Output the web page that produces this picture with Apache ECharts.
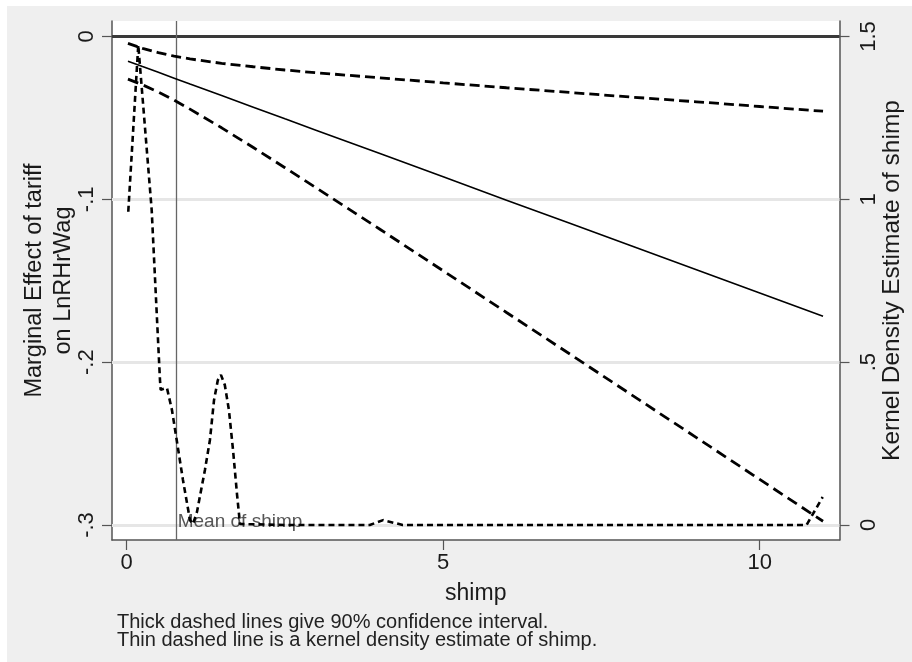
<!DOCTYPE html>
<html>
<head>
<meta charset="utf-8">
<script src="https://cdn.jsdelivr.net/npm/echarts@6/dist/echarts.min.js"></script>
<style>
html,body{margin:0;padding:0;background:#fff;width:912px;height:662px;overflow:hidden;}
#bg{position:absolute;left:7px;top:6px;right:0;bottom:0;background:#efefef;}
#chart{position:absolute;left:0;top:0;width:912px;height:662px;}
</style>
</head>
<body>
<div id="bg"></div>
<div id="chart"></div>
<script>
// ---- data ----
const shimpGrid      = [0.02, 0.25, 0.5, 0.75, 1, 1.5, 2, 2.5, 3, 4, 5, 6, 7, 8, 9, 10, 11];
const marginalEffect = [-0.0152, -0.0185, -0.0220, -0.0256, -0.0292, -0.0363, -0.0434, -0.0506, -0.0577, -0.0719, -0.0862, -0.1005, -0.1147, -0.1290, -0.1432, -0.1575, -0.1718];
const ciUpper        = [-0.0042, -0.0073, -0.0099, -0.0121, -0.0138, -0.0165, -0.0186, -0.0206, -0.0223, -0.0254, -0.0285, -0.0315, -0.0344, -0.0373, -0.0401, -0.0430, -0.0459];
const ciLower        = [-0.0262, -0.0297, -0.0341, -0.0391, -0.0446, -0.0561, -0.0682, -0.0806, -0.0931, -0.1184, -0.1439, -0.1695, -0.1950, -0.2207, -0.2463, -0.2720, -0.2977];

const densityX = [0.025, 0.183, 0.395, 0.526, 0.537, 0.636, 0.715, 0.79, 0.889, 1.0, 1.047, 1.11, 1.236, 1.315, 1.38, 1.44, 1.489, 1.55, 1.615, 1.68, 1.744, 1.79, 2.5, 3.5, 3.84, 4.05, 4.36, 5, 6, 7, 8, 9, 10, 10.74, 10.995];
const densityY = [0.962, 1.474, 0.967, 0.445, 0.415, 0.421, 0.353, 0.261, 0.138, 0.015, 0.003, 0.04, 0.169, 0.261, 0.384, 0.445, 0.461, 0.43, 0.353, 0.23, 0.092, 0.003, 0, 0, 0, 0.015, 0, 0, 0, 0, 0, 0, 0, 0, 0.086];

const shimpMean = 0.79;
const xTicks = [0, 5, 10];
const leftTicks = [-0.3, -0.2, -0.1, 0];
const rightTicks = [0, 0.5, 1, 1.5];
const gridValues = [-0.1, -0.2, -0.3];

const xAxisTitle = 'shimp';
const leftTitle = 'Marginal Effect of tariff\non LnRHrWag';
const rightTitle = 'Kernel Density Estimate of shimp';
const note = 'Thick dashed lines give 90% confidence interval.\nThin dashed line is a kernel density estimate of shimp.';
const meanLabel = 'Mean of shimp';

// ---- build ----
const FONT = '"Liberation Sans", Arial, sans-serif';
const zip = (xs, ys) => xs.map((x, i) => [x, ys[i]]);
const fmt = v => (v === 0 ? '0' : String(v).replace('0.', '.'));
const axisCol = '#555';

const chart = echarts.init(document.getElementById('chart'), null, {renderer: 'canvas'});
chart.setOption({
  animation: false,
  backgroundColor: 'transparent',
  textStyle: {fontFamily: FONT},
  title: {
    text: note, left: 117, top: 613, padding: 0,
    textStyle: {fontFamily: FONT, fontSize: 20, fontWeight: 'normal', color: '#222', lineHeight: 18}
  },
  grid: {left: 112, right: 72.5, top: 21, bottom: 122, show: true, backgroundColor: '#ffffff', borderWidth: 0,
         containLabel: false, outerBoundsMode: 'none'},
  xAxis: {
    type: 'value', min: -0.232, max: 11.26,
    splitLine: {show: false},
    axisLine: {onZero: false, lineStyle: {color: axisCol, width: 1.5}},
    axisTick: {length: 10, customValues: xTicks, lineStyle: {color: axisCol, width: 1.2}},
    axisLabel: {customValues: xTicks, margin: 12, fontSize: 22, color: '#1a1a1a', fontFamily: FONT},
    name: xAxisTitle, nameLocation: 'middle', nameGap: 42, nameMoveOverlap: false,
    nameTextStyle: {fontSize: 23, color: '#1a1a1a', fontFamily: FONT}
  },
  yAxis: [{
    type: 'value', position: 'left', min: -0.3092, max: 0.0095,
    splitLine: {show: false},
    axisLine: {show: true, onZero: false, lineStyle: {color: axisCol, width: 1.5}},
    axisTick: {show: true, length: 10, customValues: leftTicks, lineStyle: {color: axisCol, width: 1.2}},
    axisLabel: {customValues: leftTicks, formatter: fmt, rotate: 90, margin: 14, fontSize: 22, color: '#1a1a1a', fontFamily: FONT},
    name: leftTitle, nameLocation: 'middle', nameRotate: 90, nameGap: 34, nameMoveOverlap: false,
    nameTextStyle: {fontSize: 23.5, color: '#1a1a1a', lineHeight: 29, fontFamily: FONT}
  }, {
    type: 'value', position: 'right', min: -0.0461, max: 1.5476,
    splitLine: {show: false},
    axisLine: {show: true, onZero: false, lineStyle: {color: axisCol, width: 1.5}},
    axisTick: {show: true, length: 10, customValues: rightTicks, lineStyle: {color: axisCol, width: 1.2}},
    axisLabel: {customValues: rightTicks, formatter: fmt, rotate: 90, margin: 18, fontSize: 22, color: '#1a1a1a', fontFamily: FONT},
    name: rightTitle, nameLocation: 'middle', nameRotate: 90, nameGap: 40, nameMoveOverlap: false,
    nameTextStyle: {fontSize: 24.5, color: '#1a1a1a', fontFamily: FONT}
  }],
  series: [{
    name: 'reference', type: 'line', data: [], yAxisIndex: 0, silent: true, z: 1,
    markLine: {
      silent: true, symbol: ['none', 'none'], animation: false, z: 1,
      label: {show: false},
      data: gridValues.map(v => ({yAxis: v, lineStyle: {color: '#e6e6e6', width: 3, type: 'solid'}}))
        .concat([
          {yAxis: 0, lineStyle: {color: '#3a3a3a', width: 3, type: 'solid'}},
          {xAxis: shimpMean, lineStyle: {color: '#666', width: 1.3, type: 'solid'}}
        ])
    },
    markPoint: {
      silent: true, symbol: 'circle', symbolSize: 0, z: 1,
      data: [{coord: [shimpMean, -0.3], label: {show: true, formatter: meanLabel, position: 'right', distance: 1, offset: [0, -3], fontSize: 19, color: '#555', fontFamily: FONT}}]
    }
  }, {
    name: 'density', type: 'line', yAxisIndex: 1, data: zip(densityX, densityY), z: 3,
    showSymbol: false, symbol: 'none', smooth: false,
    lineStyle: {color: '#000', width: 2.6, type: [6, 4]}
  }, {
    name: 'upper', type: 'line', yAxisIndex: 0, data: zip(shimpGrid, ciUpper), z: 3,
    showSymbol: false, symbol: 'none',
    lineStyle: {color: '#000', width: 2.8, type: [10, 5]}
  }, {
    name: 'lower', type: 'line', yAxisIndex: 0, data: zip(shimpGrid, ciLower), z: 3,
    showSymbol: false, symbol: 'none',
    lineStyle: {color: '#000', width: 2.8, type: [11, 6]}
  }, {
    name: 'effect', type: 'line', yAxisIndex: 0, data: zip(shimpGrid, marginalEffect), z: 3,
    showSymbol: false, symbol: 'none',
    lineStyle: {color: '#000', width: 1.6, type: 'solid'}
  }]
});
</script>
</body>
</html>
